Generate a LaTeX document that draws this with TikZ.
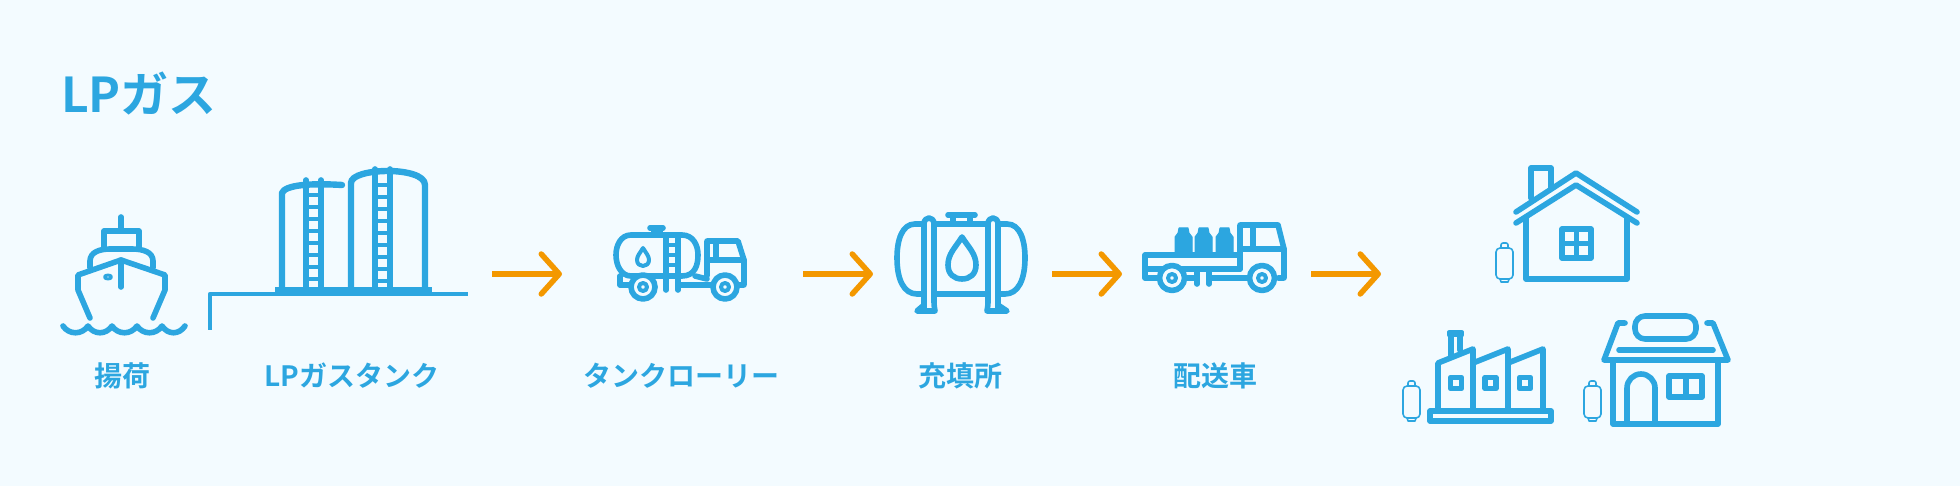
\documentclass[tikz,border=0pt]{standalone}
\usepackage{fontspec}
\newfontfamily\jpfont{Noto Sans CJK JP}[BoldFont={Noto Sans CJK JP Bold}]
\usetikzlibrary{arrows.meta}
\definecolor{lpblue}{HTML}{2CA6E0}
\definecolor{lporange}{HTML}{F39800}
\definecolor{lpback}{HTML}{F3FBFF}
\tikzset{
	icon/.style={draw=lpblue,line width=2.8pt,line cap=round,line join=round},
	tankline/.style={icon,line width=3.2pt},
	thinicon/.style={draw=lpblue,line width=0.8pt,line join=round},
	solidicon/.style={fill=lpblue,draw=lpblue,line width=0.5pt,line join=round},
	wheel/.style={icon,fill=lpback},
	flowarrow/.style={draw=lporange,line width=2.75pt,-{Straight Barb[length=9pt,width=20pt,round]}},
	steplabel/.style={text=lpblue,font=\jpfont\bfseries\fontsize{14pt}{16pt}\selectfont,anchor=center},
}
\begin{document}
\begin{tikzpicture}[x=0.5pt,y=-0.5pt]
	\useasboundingbox (0,0) rectangle (1960,486);
	\fill[lpback] (0,0) rectangle (1960,486);
	\node[text=lpblue,font=\jpfont\bfseries\fontsize{24pt}{28pt}\selectfont,anchor=west] (title) at (54,94) {LPガス};
	% ship
	\draw[icon] (121,217) -- (121,231);
	\draw[icon] (104,247) -- (104,231) -- (139,231) -- (139,247);
	\draw[icon] (90,268) -- (90,261) .. controls (90,252) and (100,249) .. (110,249) -- (132,249) .. controls (143,249) and (153,252) .. (153,261) -- (153,268);
	\draw[icon] (90,318) -- (78,290) -- (78,275) -- (121,260) -- (165,275) -- (165,290) -- (153,318);
	\draw[icon] (121,260) -- (121,287);
	\draw[icon,line width=1.5pt] (108,277) ellipse [x radius=3.5,y radius=2];
	\draw[icon] (63,326) .. controls (69,335) and (82,335) .. (88,326) .. controls (94,335) and (106,335) .. (112,326) .. controls (118,335) and (131,335) .. (137,326) .. controls (143,335) and (156,335) .. (162,326) .. controls (168,335) and (179,335) .. (185,326);
	% tanks
	\draw[icon,line width=2.1pt,line cap=butt] (210,330) -- (210,294) -- (468,294);
	\draw[tankline] (282,292) -- (282,193) .. controls (285,185) and (310,183) .. (342,185);
	\draw[tankline] (351,292) -- (351,183) .. controls (351,175) and (370,171) .. (388,171) .. controls (405,171) and (425,175) .. (425,185) -- (425,292);
	\draw[icon,line width=4pt,line cap=butt] (275,291) -- (432,291);
	\draw[icon] (306,180) -- (306,290);
	\draw[icon] (321,180) -- (321,290);
	\draw[icon] (375,169) -- (375,290);
	\draw[icon] (390,169) -- (390,290);
	\draw[icon,line width=2pt,line cap=butt] (306,195) -- (321,195) (306,207) -- (321,207) (306,219) -- (321,219) (306,231) -- (321,231) (306,243) -- (321,243) (306,255) -- (321,255) (306,267) -- (321,267) (306,279) -- (321,279);
	\draw[icon,line width=2pt,line cap=butt] (375,185) -- (390,185) (375,197) -- (390,197) (375,209) -- (390,209) (375,221) -- (390,221) (375,233) -- (390,233) (375,245) -- (390,245) (375,257) -- (390,257) (375,269) -- (390,269) (375,281) -- (390,281);
	% tank lorry
	\draw[icon] (631,235) -- (682,235) .. controls (693,235) and (698,245) .. (698,255) .. controls (698,265) and (695,276) .. (682,276) -- (631,276) .. controls (621,276) and (616,265) .. (616,255) .. controls (616,245) and (621,235) .. (631,235) -- cycle;
	\draw[icon] (654,235) -- (654,229) (660,235) -- (660,229) (650,228) -- (663,228);
	\draw[icon] (666,235) -- (666,290) (678,235) -- (678,290);
	\draw[icon,line width=2pt,line cap=butt] (666,245) -- (678,245) (666,255) -- (678,255) (666,265) -- (678,265) (666,275) -- (678,275);
	\draw[icon,line width=2pt] (643,248) .. controls (640,253) and (637,256) .. (637,260) .. controls (637,264) and (640,266) .. (643,266) .. controls (646,266) and (649,264) .. (649,260) .. controls (649,256) and (646,253) .. (643,248) -- cycle;
	\draw[icon] (707,276) -- (707,241) -- (738,241) -- (744,260) -- (744,285) -- (738,285);
	\draw[icon] (716,241) -- (716,260) (707,260) -- (744,260);
	\draw[icon] (620,276) -- (620,285) -- (632,285);
	\draw[icon] (695,276) -- (707,279) (678,285) -- (712,285);
	\draw[wheel] (643,287) circle [radius=12];
	\draw[icon,line width=2pt] (643,287) circle [radius=4];
	\draw[wheel] (725,287) circle [radius=12];
	\draw[icon,line width=2pt] (725,287) circle [radius=4];
	% filling station
	\draw[icon] (924,224) -- (915,224) .. controls (902,224) and (897,240) .. (897,258) .. controls (897,280) and (904,294) .. (917,294) -- (924,294);
	\draw[icon] (998,224) -- (1007,224) .. controls (1020,224) and (1025,240) .. (1025,258) .. controls (1025,280) and (1018,294) .. (1005,294) -- (998,294);
	\draw[icon] (934,224) -- (988,224) (934,294) -- (988,294);
	\draw[icon] (924,308) -- (924,224) .. controls (924,216) and (934,216) .. (934,224) -- (934,302) .. controls (934,307) and (935,310) .. (935,311) -- (917,311) -- (924,305);
	\draw[icon] (998,308) -- (998,224) .. controls (998,216) and (988,216) .. (988,224) -- (988,302) .. controls (988,307) and (987,310) .. (987,311) -- (1007,311) -- (998,305);
	\draw[icon] (948,215) -- (975,215) (953,215) -- (953,224) (970,215) -- (970,224);
	\draw[icon] (962,237) .. controls (955,248) and (948,254) .. (948,265) .. controls (948,274) and (954,279) .. (962,279) .. controls (970,279) and (976,274) .. (976,265) .. controls (976,254) and (969,248) .. (962,237) -- cycle;
	% delivery truck
	\draw[solidicon] (1175,253) -- (1175,237) -- (1178,233) -- (1179,228) -- (1188,228) -- (1189,233) -- (1192,237) -- (1192,253) -- cycle;
	\draw[solidicon] (1195,253) -- (1195,237) -- (1198,233) -- (1199,228) -- (1208,228) -- (1209,233) -- (1212,237) -- (1212,253) -- cycle;
	\draw[solidicon] (1216,253) -- (1216,237) -- (1219,233) -- (1220,228) -- (1229,228) -- (1230,233) -- (1233,237) -- (1233,253) -- cycle;
	\draw[icon,line cap=butt] (1145,255) -- (1240,255) -- (1240,269) -- (1145,269) -- cycle;
	\draw[icon] (1240,269) -- (1240,225) -- (1278,225) -- (1284,249) -- (1284,278) -- (1278,278);
	\draw[icon] (1253,225) -- (1253,249) (1240,249) -- (1284,249);
	\draw[icon] (1145,269) -- (1145,278) -- (1158,278);
	\draw[icon] (1185,278) -- (1197,278) (1197,269) -- (1197,284) (1209,269) -- (1209,284) (1209,278) -- (1250,278);
	\draw[wheel] (1172,278) circle [radius=12.5];
	\draw[icon,line width=2pt] (1172,278) circle [radius=4];
	\draw[wheel] (1262,278) circle [radius=12.5];
	\draw[icon,line width=2pt] (1262,278) circle [radius=4];
	% house
	\draw[icon] (1531,198) -- (1531,168) -- (1551,168) -- (1551,188);
	\draw[icon] (1516,212) -- (1576,173) -- (1637,212);
	\draw[icon] (1516,223) -- (1576,185) -- (1637,223);
	\draw[icon] (1526,218) -- (1526,279) -- (1627,279) -- (1627,218);
	\draw[icon] (1562,229) rectangle (1591,258);
	\draw[icon,line cap=butt] (1576.5,229) -- (1576.5,258) (1562,243.5) -- (1591,243.5);
	% cylinders
	\draw[thinicon,rounded corners=2pt] (1496,248) rectangle (1513,279);
	\draw[thinicon,rounded corners=1pt] (1501,248) -- (1501,243) -- (1508,243) -- (1508,248);
	\draw[thinicon] (1500,279) -- (1501,282) -- (1508,282) -- (1509,279);
	\draw[thinicon,rounded corners=2pt] (1403,386) rectangle (1420,418);
	\draw[thinicon,rounded corners=1pt] (1408,386) -- (1408,381) -- (1415,381) -- (1415,386);
	\draw[thinicon] (1407,418) -- (1408,421) -- (1415,421) -- (1416,418);
	\draw[thinicon,rounded corners=2pt] (1584,386) rectangle (1601,418);
	\draw[thinicon,rounded corners=1pt] (1589,386) -- (1589,381) -- (1596,381) -- (1596,386);
	\draw[thinicon] (1588,418) -- (1589,421) -- (1596,421) -- (1597,418);
	% factory
	\draw[icon] (1430,411) rectangle (1551,421);
	\draw[icon] (1438,408) -- (1438,363) -- (1473,349) -- (1473,408);
	\draw[icon] (1473,363) -- (1508,349) -- (1508,408);
	\draw[icon] (1508,363) -- (1543,349) -- (1543,408);
	\draw[icon] (1451,357) -- (1451,337) (1460,350) -- (1460,337);
	\draw[icon,line width=2pt] (1449,332.5) rectangle (1462,335.5);
	\draw[icon] (1450.5,377.5) rectangle (1461.5,388.5);
	\draw[icon] (1485,377.5) rectangle (1496,388.5);
	\draw[icon] (1519.5,377.5) rectangle (1530.5,388.5);
	% shop
	\draw[icon,rounded corners=5pt] (1635,316) rectangle (1696,339);
	\draw[icon] (1625,323) -- (1618,323) -- (1604,360) -- (1728,360) -- (1713,323) -- (1707,323);
	\draw[icon] (1619,350) -- (1713,350);
	\draw[icon] (1613,360) -- (1613,424) -- (1718,424) -- (1718,360);
	\draw[icon] (1627,424) -- (1627,388) arc [start angle=180,end angle=360,radius=14] -- (1655,424);
	\draw[icon] (1669,376) rectangle (1702,397);
	\draw[icon,line cap=butt] (1686,376) -- (1686,397);
	% flow arrows
	\coordinate (a1s) at (492,274);
	\coordinate (a1e) at (562,274);
	\coordinate (a2s) at (803,274);
	\coordinate (a2e) at (873,274);
	\coordinate (a3s) at (1052,274);
	\coordinate (a3e) at (1122,274);
	\coordinate (a4s) at (1311,274);
	\coordinate (a4e) at (1381,274);
	\draw[flowarrow] (a1s) -- (a1e);
	\draw[flowarrow] (a2s) -- (a2e);
	\draw[flowarrow] (a3s) -- (a3e);
	\draw[flowarrow] (a4s) -- (a4e);
	% labels
	\node[steplabel] (unload) at (122,376) {揚荷};
	\node[steplabel] (tank) at (352,376) {LPガスタンク};
	\node[steplabel] (lorry) at (681,376) {タンクローリー};
	\node[steplabel] (station) at (960,376) {充填所};
	\node[steplabel] (truck) at (1215,376) {配送車};
\end{tikzpicture}
\end{document}
